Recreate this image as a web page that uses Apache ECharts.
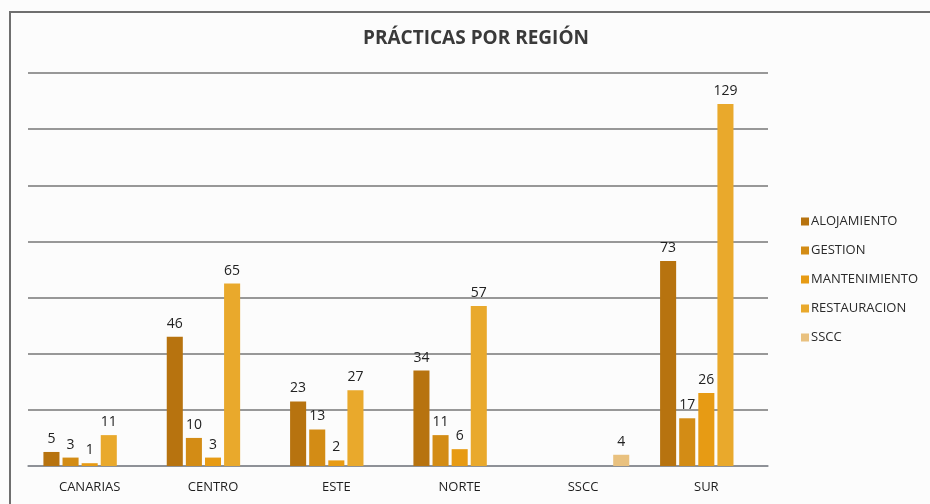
<!DOCTYPE html>
<html>
<head>
<meta charset="utf-8">
<script src="https://cdn.jsdelivr.net/npm/echarts@6/dist/echarts.min.js"></script>
<style>
  html, body { margin: 0; padding: 0; background: #fcfcfc; }
  #chart { width: 930px; height: 504px; }
</style>
</head>
<body>
<div id="chart"></div>
<script>
// Prácticas por región, desglosadas por área
const regions = ['CANARIAS', 'CENTRO', 'ESTE', 'NORTE', 'SSCC', 'SUR'];
const alojamiento   = [5, 46, 23, 34, null, 73];
const gestion       = [3, 10, 13, 11, null, 17];
const mantenimiento = [1, 3, 2, 6, null, 26];
const restauracion  = [11, 65, 27, 57, null, 129];
const sscc          = [null, null, null, null, 4, null];

const seriesNames = ['ALOJAMIENTO', 'GESTION', 'MANTENIMIENTO', 'RESTAURACION', 'SSCC'];
const seriesData = [alojamiento, gestion, mantenimiento, restauracion, sscc];
const seriesColors = ['#b7730f', '#d38c15', '#e79b14', '#e9a92c', '#e9c17f'];

const font = '"Open Sans", "Liberation Sans", sans-serif';

const chart = echarts.init(document.getElementById('chart'), null, { renderer: 'canvas' });

chart.setOption({
  backgroundColor: '#fcfcfc',
  animation: false,
  title: {
    text: 'PRÁCTICAS POR REGIÓN',
    left: 471,
    textAlign: 'center',
    top: 24,
    textStyle: { fontFamily: font, fontSize: 19, fontWeight: 'bold', color: '#3a3a3a' }
  },
  legend: {
    orient: 'vertical',
    left: 796,
    top: 210,
    itemWidth: 8,
    itemHeight: 8,
    itemGap: 16,
    icon: 'rect',
    textStyle: { fontFamily: font, fontSize: 13, color: '#2a2a2a', padding: [0, 0, 0, -3] },
    data: seriesNames
  },
  grid: { left: 28, right: 162, top: 73, bottom: 38 },
  xAxis: {
    type: 'category',
    data: regions,
    axisTick: { show: false },
    axisLine: { lineStyle: { color: '#8a8f96', width: 1.5 } },
    axisLabel: { fontFamily: font, fontSize: 13, color: '#1e1e1e', margin: 15 }
  },
  yAxis: {
    type: 'value',
    min: 0,
    max: 140,
    interval: 20,
    axisLabel: { show: false },
    axisLine: { show: false },
    axisTick: { show: false },
    splitLine: { lineStyle: { color: '#777', width: 1.5 } }
  },
  series: seriesNames.map((name, i) => ({
    name: name,
    type: 'bar',
    data: seriesData[i],
    barGap: '19%',
    barCategoryGap: '25%',
    itemStyle: { color: seriesColors[i] },
    label: {
      show: true,
      position: 'top',
      distance: 6,
      fontFamily: font,
      fontSize: 14,
      color: '#222'
    }
  })),
  graphic: [
    {
      type: 'polyline',
      shape: { points: [[10, 504], [10, 12], [930, 12]] },
      style: { stroke: '#6f6f6f', lineWidth: 2, fill: null }
    }
  ]
});
</script>
</body>
</html>
